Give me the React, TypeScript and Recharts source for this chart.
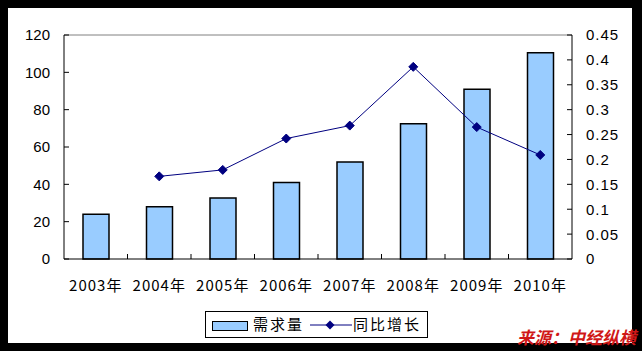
import React from 'react';
import { ComposedChart, Bar, Line, XAxis, YAxis, ReferenceLine } from 'recharts';

const years = ['2003年', '2004年', '2005年', '2006年', '2007年', '2008年', '2009年', '2010年'];
const demand = [24, 28, 32.7, 41, 52, 72.5, 91, 110.5];
const growth = [null, 0.166, 0.179, 0.242, 0.268, 0.386, 0.265, 0.209];
const leftTicks = [0, 20, 40, 60, 80, 100, 120];
const rightTicks = [0, 0.05, 0.1, 0.15, 0.2, 0.25, 0.3, 0.35, 0.4, 0.45];
const rightLabels = ['0', '0.05', '0.1', '0.15', '0.2', '0.25', '0.3', '0.35', '0.4', '0.45'];
const demandName = '需求量';
const growthName = '同比增长';
const sourceText = '来源：中经纵横';

const data = years.map((y, i) => ({ year: y, demand: demand[i], growth: growth[i] }));

const W = 642;
const H = 351;
const PLOT_L = 64;
const PLOT_R = 572;
const BAND = (PLOT_R - PLOT_L) / years.length;
const BAR_FILL = '#99CCFF';
const LINE_C = '#000080';
const NUM_FONT = '"Liberation Sans", Arial, sans-serif';
const CJK_FONT = '"Noto Sans CJK SC", sans-serif';

const LeftTick = (props: any) => {
  const { x, y, payload } = props;
  return (
    <g>
      <line x1={x + 14} x2={x + 19} y1={y} y2={y} stroke="#000" strokeWidth={1} />
      <text x={x} y={y} dy="0.36em" textAnchor="end" fontFamily={NUM_FONT} fontSize={15} fill="#000">
        {payload.value}
      </text>
    </g>
  );
};

const RightTick = (props: any) => {
  const { x, y, payload, index } = props;
  const idx = rightTicks.indexOf(payload.value);
  const label = idx >= 0 ? rightLabels[idx] : String(payload.value);
  return (
    <g>
      <line x1={x - 14} x2={x - 19} y1={y} y2={y} stroke="#000" strokeWidth={1} />
      <text x={x} y={y} dy="0.36em" textAnchor="start" fontFamily={NUM_FONT} fontSize={15} letterSpacing={1} fill="#000">
        {label}
      </text>
    </g>
  );
};

const XTick = (props: any) => {
  const { x, y, payload, index } = props;
  return (
    <g>
      {index > 0 ? (
        <line x1={x - BAND / 2} x2={x - BAND / 2} y1={y} y2={y - 5} stroke="#000" strokeWidth={1} />
      ) : null}
      <text x={x} y={y + 32} textAnchor="middle" fontFamily={CJK_FONT} fontSize={15} letterSpacing={1} fill="#000">
        {payload.value}
      </text>
    </g>
  );
};

const Diamond = (props: any) => {
  const { cx, cy, index } = props;
  if (cx == null || cy == null || props.value == null) return <g key={`d-${index}`} />;
  const r = 4.5;
  return (
    <path
      key={`d-${index}`}
      d={`M${cx},${cy - r}L${cx + r},${cy}L${cx},${cy + r}L${cx - r},${cy}Z`}
      fill={LINE_C}
      stroke={LINE_C}
      strokeWidth={1}
    />
  );
};

export default function App() {
  return (
    <div style={{ position: 'absolute', left: 0, top: 0, width: W, height: H, background: '#000', overflow: 'hidden' }}>
      <div style={{ position: 'absolute', left: 8, top: 8, width: 624, height: 335, background: '#fff' }} />
      <div style={{ position: 'absolute', left: 0, top: 0 }}>
        <ComposedChart width={W} height={H} data={data} margin={{ top: 35, right: 0, bottom: 0, left: 0 }}>
          <XAxis
            dataKey="year"
            xAxisId="x"
            height={92}
            tickLine={false}
            tickSize={0}
            tickMargin={0}
            axisLine={{ stroke: '#000', strokeWidth: 1 }}
            tick={<XTick />}
            interval={0}
          />
          <YAxis
            yAxisId="left"
            orientation="left"
            width={64}
            domain={[0, 120]}
            ticks={leftTicks}
            tickLine={false}
            tickSize={0}
            tickMargin={14}
            axisLine={{ stroke: '#000', strokeWidth: 1 }}
            tick={<LeftTick />}
            interval={0}
          />
          <YAxis
            yAxisId="right"
            orientation="right"
            width={70}
            domain={[0, 0.45]}
            ticks={rightTicks}
            tickLine={false}
            tickSize={0}
            tickMargin={14}
            axisLine={{ stroke: '#000', strokeWidth: 1 }}
            tick={<RightTick />}
            interval={0}
          />
          <ReferenceLine yAxisId="left" xAxisId="x" y={120} stroke="#808080" strokeWidth={1} />
          <Bar
            dataKey="demand"
            name={demandName}
            xAxisId="x"
            yAxisId="left"
            barSize={26}
            fill={BAR_FILL}
            stroke="#000"
            strokeWidth={1.5}
            isAnimationActive={false}
          />
          <Line
            dataKey="growth"
            name={growthName}
            xAxisId="x"
            yAxisId="right"
            stroke={LINE_C}
            strokeWidth={1}
            dot={Diamond}
            activeDot={false}
            isAnimationActive={false}
          />
        </ComposedChart>
      </div>
      <div
        style={{
          position: 'absolute',
          left: 205,
          top: 311,
          width: 223,
          height: 27,
          border: '1px solid #000',
          boxSizing: 'border-box',
          background: '#fff',
          fontFamily: CJK_FONT,
          fontSize: 15,
          letterSpacing: 2,
          color: '#000',
        }}
      >
        <div
          style={{
            position: 'absolute',
            left: 6,
            top: 9,
            width: 36,
            height: 10,
            background: BAR_FILL,
            border: '1px solid #000',
            boxSizing: 'border-box',
          }}
        />
        <div style={{ position: 'absolute', left: 47, top: 2, lineHeight: '20px', whiteSpace: 'nowrap' }}>{demandName}</div>
        <svg style={{ position: 'absolute', left: 104, top: 8 }} width={42} height={10}>
          <line x1={0} x2={42} y1={5} y2={5} stroke={LINE_C} strokeWidth={1} />
          <path d="M20,0.5L24.5,5L20,9.5L15.5,5Z" fill={LINE_C} />
        </svg>
        <div style={{ position: 'absolute', left: 147, top: 2, lineHeight: '20px', whiteSpace: 'nowrap' }}>{growthName}</div>
      </div>
      <div
        style={{
          position: 'absolute',
          left: 517,
          top: 327,
          fontFamily: CJK_FONT,
          fontSize: 17,
          fontWeight: 'bold',
          fontStyle: 'italic',
          color: '#D01818',
          lineHeight: '20px',
          whiteSpace: 'nowrap',
        }}
      >
        {sourceText}
      </div>
    </div>
  );
}
